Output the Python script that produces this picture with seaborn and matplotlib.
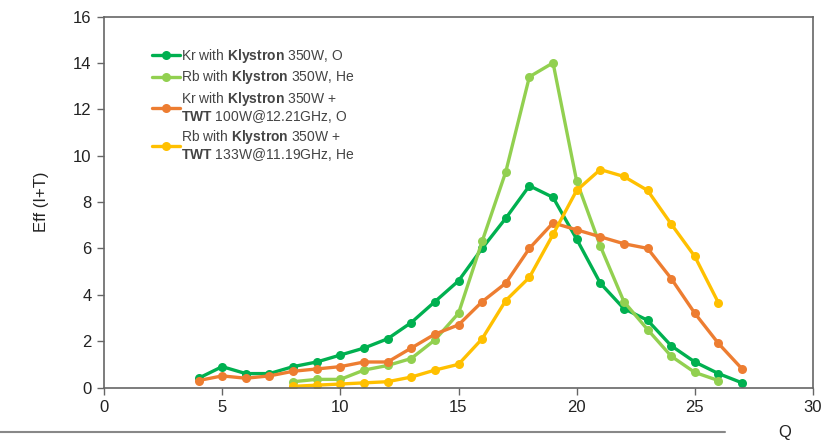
import matplotlib
matplotlib.use("Agg")
import matplotlib.pyplot as plt
from matplotlib.lines import Line2D
import seaborn as sns
import pandas as pd

# ---- data ----
q_a = list(range(4, 28))   # Kr series
q_b = list(range(8, 27))   # Rb series

kr_kly = [0.4, 0.9, 0.6, 0.6, 0.9, 1.1, 1.4, 1.7, 2.1, 2.8, 3.7, 4.6,
          6.0, 7.3, 8.7, 8.2, 6.4, 4.5, 3.4, 2.9, 1.8, 1.1, 0.6, 0.2]
rb_kly = [0.25, 0.35, 0.35, 0.75, 0.95, 1.25, 2.05, 3.2, 6.3, 9.3,
          13.4, 14.0, 8.9, 6.1, 3.7, 2.5, 1.35, 0.65, 0.3]
kr_twt = [0.3, 0.5, 0.4, 0.5, 0.7, 0.8, 0.9, 1.1, 1.1, 1.7, 2.3, 2.7,
          3.7, 4.5, 6.0, 7.1, 6.8, 6.5, 6.2, 6.0, 4.7, 3.2, 1.9, 0.8]
rb_twt = [0.05, 0.1, 0.15, 0.2, 0.25, 0.45, 0.75, 1.0, 2.1, 3.75,
          4.75, 6.6, 8.5, 9.4, 9.1, 8.5, 7.05, 5.65, 3.65]

series_names = [
    "Kr with $\\mathbf{Klystron}$ 350W, O",
    "Rb with $\\mathbf{Klystron}$ 350W, He",
    "Kr with $\\mathbf{Klystron}$ 350W +\n$\\mathbf{TWT}$ 100W@12.21GHz, O",
    "Rb with $\\mathbf{Klystron}$ 350W +\n$\\mathbf{TWT}$ 133W@11.19GHz, He",
]
colors = ["#00B050", "#92D050", "#ED7D31", "#FFC000"]

rows = []
for name, xs, ys in zip(series_names, [q_a, q_b, q_a, q_b],
                        [kr_kly, rb_kly, kr_twt, rb_twt]):
    for x, y in zip(xs, ys):
        rows.append({"Q": x, "Eff": y, "series": name})
df = pd.DataFrame(rows)

sns.set_theme(style="white")
plt.rcParams["font.family"] = ["Liberation Sans", "DejaVu Sans"]
plt.rcParams["mathtext.fontset"] = "custom"
plt.rcParams["mathtext.rm"] = "Liberation Sans"
plt.rcParams["mathtext.bf"] = "Liberation Sans:bold"

fig = plt.figure(figsize=(8.35, 4.4), dpi=100)
ax = fig.add_axes([104 / 835, 1 - 387.5 / 440, 709 / 835, 371 / 440])

palette = dict(zip(series_names, colors))
sns.lineplot(data=df, x="Q", y="Eff", hue="series", hue_order=series_names,
             palette=palette, marker="o", markersize=6.5, markeredgewidth=0,
             linewidth=2.4, ax=ax, legend=False)

ax.set_xlim(0, 30)
ax.set_ylim(0, 16)
ax.set_xticks(range(0, 31, 5))
ax.set_yticks(range(0, 17, 2))
for s in ax.spines.values():
    s.set_visible(True)
    s.set_color("#666666")
    s.set_linewidth(1.2)
ax.tick_params(axis="both", which="both", direction="out", length=5,
               width=1, color="#666666", labelsize=12, labelcolor="#222222",
               bottom=True, left=True, top=False, right=False, pad=4)
ax.set_xlabel("")
ax.set_ylabel("Eff (I+T)", fontsize=12, color="#222222", labelpad=17)

handles = [Line2D([0], [0], color=c, linewidth=2.4, marker="o",
                  markersize=6.5, markeredgewidth=0) for c in colors]
leg = ax.legend(handles, series_names, loc="upper left",
                bbox_to_anchor=(0.068, 0.918), frameon=False, fontsize=10,
                handlelength=2.0, handletextpad=0.1, labelspacing=0.25,
                borderpad=0, borderaxespad=0, labelcolor="#444444")
for t in leg.get_texts():
    t.set_linespacing(1.0)

fig.text(785 / 835, 1 - 432 / 440, "Q", fontsize=12, color="#222222",
         ha="center", va="center")
fig.add_artist(Line2D([0, 725 / 835], [1 - 432 / 440, 1 - 432 / 440],
                      transform=fig.transFigure, color="#888888",
                      linewidth=1.5))

fig.savefig("out.png", dpi=100)
